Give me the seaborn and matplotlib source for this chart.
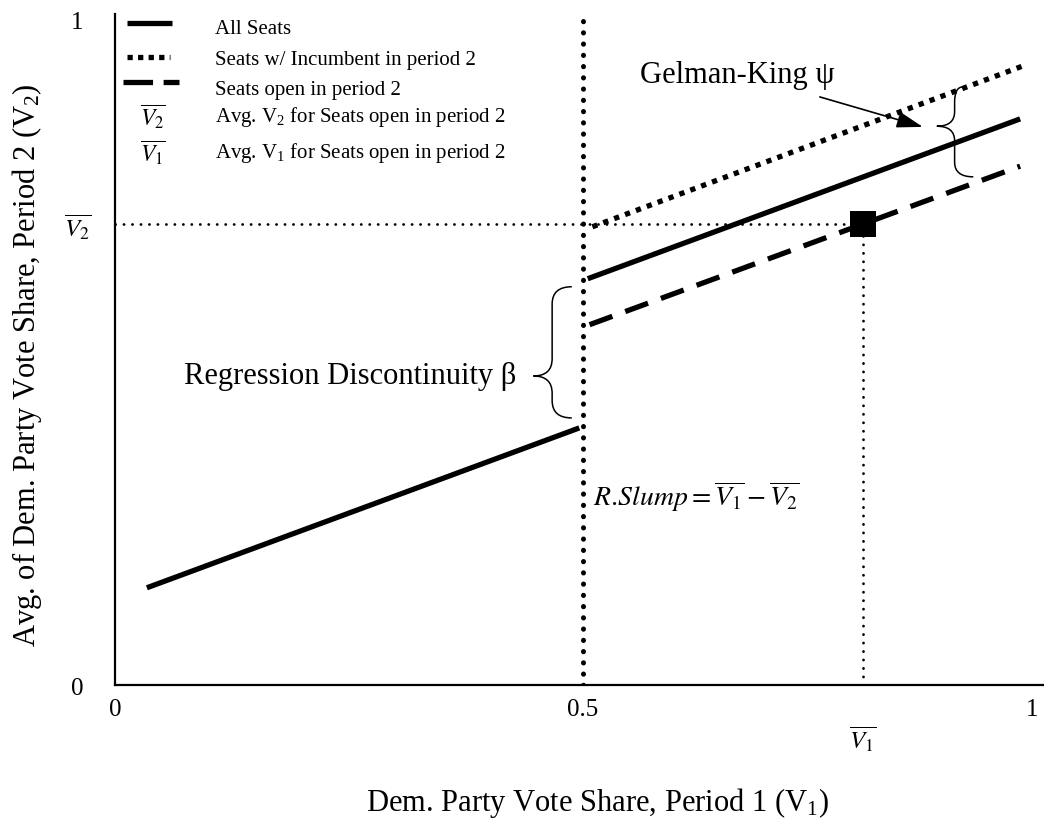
import matplotlib
matplotlib.use("Agg")
import matplotlib.pyplot as plt
from matplotlib.path import Path
from matplotlib.patches import PathPatch
import seaborn as sns

# schematic values
cutoff = 0.5
all_left_x = [0.034, 0.496]
all_left_y = [0.146, 0.386]
all_right_x = [0.505, 0.967]
all_right_y = [0.610, 0.850]
inc_x = [0.510, 0.969]
inc_y = [0.688, 0.929]
open_x = [0.507, 0.967]
open_y = [0.541, 0.779]
v1_bar = 0.799
v2_bar = 0.692

xtick_pos = [0, 0.5, 0.98]
xtick_labels = ['0', '0.5', '1']
ytick_labels = ['0', r'$\overline{V_{\mathrm{2}}}$', '1']

sns.set_style('white')
plt.rcParams['font.family'] = ['Liberation Serif', 'DejaVu Serif']
plt.rcParams['mathtext.fontset'] = 'stix'
for key in ['text.color', 'axes.labelcolor', 'xtick.color', 'ytick.color']:
    plt.rcParams[key] = 'black'

fig = plt.figure(figsize=(10.44, 8.2), dpi=100)
ax = fig.add_axes([0.1102, 0.1634, 0.8898, 0.8183])
ax.set_xlim(0, 0.9925)
ax.set_ylim(0, 1.0075)

solid = dict(color='black', lw=3.8, estimator=None, sort=False, ax=ax)
sns.lineplot(x=all_left_x, y=all_left_y, solid_capstyle='butt', **solid)
sns.lineplot(x=all_right_x, y=all_right_y, solid_capstyle='butt', **solid)
sns.lineplot(x=inc_x, y=inc_y, linestyle=(0, (1, 1.2)), dash_capstyle='butt', **solid)
sns.lineplot(x=open_x, y=open_y, linestyle=(0, (4.6, 2.6)), dash_capstyle='butt', **solid)

# guide lines
sns.lineplot(x=[cutoff, cutoff], y=[0, 1.005], color='black', lw=3.6,
             linestyle=(0, (0.05, 2.2)), dash_capstyle='round',
             estimator=None, sort=False, ax=ax)
sns.lineplot(x=[0, v1_bar], y=[v2_bar, v2_bar], color='black', lw=2.0,
             linestyle=(0, (0.05, 3.0)), dash_capstyle='round',
             estimator=None, sort=False, ax=ax)
sns.lineplot(x=[v1_bar, v1_bar], y=[0, v2_bar], color='black', lw=2.0,
             linestyle=(0, (0.05, 3.0)), dash_capstyle='round',
             estimator=None, sort=False, ax=ax)
sns.scatterplot(x=[v1_bar], y=[v2_bar], marker='s', s=370, color='black',
                linewidth=0, zorder=5, ax=ax)

# axes styling
for side in ['top', 'right']:
    ax.spines[side].set_visible(False)
for side in ['left', 'bottom']:
    ax.spines[side].set_linewidth(1.6)
    ax.spines[side].set_color('black')
ax.set_xticks(xtick_pos)
ax.set_xticklabels(xtick_labels, fontsize=18)
ax.set_yticks([0, v2_bar, 1])
ax.set_yticklabels(ytick_labels, fontsize=18)
for lab in ax.get_yticklabels():
    lab.set_horizontalalignment('center')
ax.tick_params(axis='x', length=0, pad=9)
ax.tick_params(axis='y', length=0, pad=27)
ax.annotate(r'$\overline{V_{\mathrm{1}}}$', xy=(v1_bar, 0),
            xycoords=('data', 'axes fraction'), xytext=(0, -39),
            textcoords='offset points', ha='center', va='center', fontsize=18)

ax.set_xlabel('Dem. Party Vote Share, Period 1 (V$\\mathregular{_1}$)', fontsize=22)
ax.xaxis.set_label_coords(0.519, -0.174)
ax.xaxis.label.set_va('center')
ax.set_ylabel('Avg. of Dem. Party Vote Share, Period 2 (V$\\mathregular{_2}$)', fontsize=22)
ax.yaxis.set_label_coords(-0.0947, 0.478)
ax.yaxis.label.set_va('center')


def brace(x_end_top, x_end_bot, x_spine, x_tip, y_top, y_tip, y_bot, ry):
    verts = [(x_end_top, y_top), (x_spine, y_top), (x_spine, y_top - ry),
             (x_spine, y_tip + ry),
             (x_spine, y_tip), (x_tip, y_tip),
             (x_spine, y_tip), (x_spine, y_tip - ry),
             (x_spine, y_bot + ry),
             (x_spine, y_bot), (x_end_bot, y_bot)]
    codes = [Path.MOVETO, Path.CURVE3, Path.CURVE3, Path.LINETO,
             Path.CURVE3, Path.CURVE3, Path.CURVE3, Path.CURVE3,
             Path.LINETO, Path.CURVE3, Path.CURVE3]
    ax.add_patch(PathPatch(Path(verts, codes), fill=False, lw=1.1, color='black'))


brace(0.488, 0.488, 0.467, 0.447, 0.598, 0.464, 0.401, 0.026)
brace(0.906, 0.917, 0.897, 0.878, 0.898, 0.839, 0.763, 0.022)

ax.text(0.429, 0.464, 'Regression Discontinuity β', fontsize=22, ha='right', va='center')
ax.text(0.769, 0.905, 'Gelman-King ψ', fontsize=22, ha='right', va='baseline')
ax.annotate('', xy=(0.863, 0.838), xytext=(0.753, 0.883),
            arrowprops=dict(arrowstyle='-|>,head_length=0.8,head_width=0.25',
                            lw=1.2, color='black', mutation_scale=20,
                            shrinkA=0, shrinkB=0))
ax.text(0.511, 0.284, r'$R.\!Slump=\overline{V_{\mathrm{1}}}-\overline{V_{\mathrm{2}}}$',
        fontsize=20, ha='left', va='center')

# hand-drawn legend in the upper left corner
leg = dict(color='black', lw=3.8, estimator=None, sort=False, ax=ax)
sns.lineplot(x=[0.013, 0.061], y=[0.994, 0.994], solid_capstyle='butt', **leg)
sns.lineplot(x=[0.013, 0.059], y=[0.943, 0.943], linestyle=(0, (1, 1)),
             dash_capstyle='butt', **leg)
sns.lineplot(x=[0.008, 0.068], y=[0.905, 0.905], linestyle=(0, (5.6, 2)),
             dash_capstyle='butt', **leg)
ax.text(0.0406, 0.854, r'$\overline{V_{\mathrm{2}}}$', fontsize=17, ha='center', va='center')
ax.text(0.0406, 0.800, r'$\overline{V_{\mathrm{1}}}$', fontsize=17, ha='center', va='center')
legend_labels = ['All Seats', 'Seats w/ Incumbent in period 2', 'Seats open in period 2',
                 'Avg. V$\\mathregular{_2}$ for Seats open in period 2',
                 'Avg. V$\\mathregular{_1}$ for Seats open in period 2']
legend_y = [0.986, 0.939, 0.894, 0.854, 0.800]
for lab, yy in zip(legend_labels, legend_y):
    ax.text(0.107, yy, lab, fontsize=15, ha='left', va='center')

fig.savefig('out.png', dpi=100)
